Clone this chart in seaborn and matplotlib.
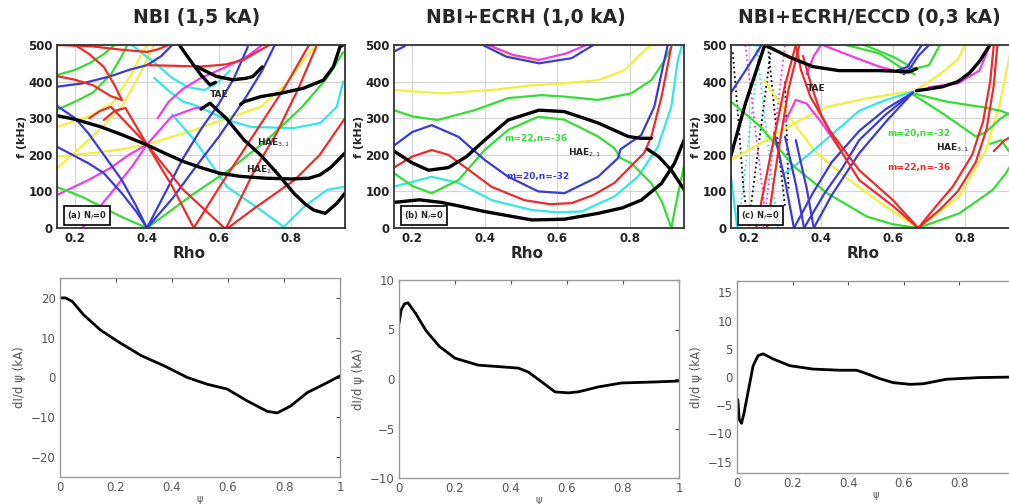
import matplotlib
matplotlib.use("Agg")
import matplotlib.pyplot as plt
import seaborn as sns

# ---- Alfven continuum curves, (rho, f[kHz]) ----
# panel (a) NBI
a_black = [
    ([0.15, 0.2, 0.27, 0.33, 0.4, 0.45, 0.5, 0.55, 0.6, 0.66, 0.73, 0.8, 0.85, 0.88, 0.91, 0.95],
     [307, 297, 277, 255, 227, 204, 182, 165, 150, 141, 136, 134, 136, 145, 165, 205]),
    ([0.55, 0.575, 0.6, 0.62, 0.67, 0.716, 0.762, 0.808, 0.84, 0.863, 0.895, 0.927, 0.95],
     [325, 341, 318, 300, 240, 199, 149, 95, 65, 49, 40, 67, 95]),
    ([0.66, 0.67, 0.716, 0.771, 0.835, 0.89, 0.918, 0.936, 0.945],
     [338, 345, 359, 368, 382, 404, 441, 495, 500]),
    ([0.49, 0.52, 0.55, 0.575, 0.59], [500, 458, 418, 391, 398]),
    ([0.538, 0.593, 0.639, 0.675, 0.694, 0.72], [441, 414, 405, 409, 414, 440]),
]
a_red = [
    ([0.15, 0.25, 0.33, 0.4, 0.43, 0.46], [500, 496, 487, 481, 488, 500]),
    ([0.4, 0.48, 0.55, 0.62, 0.67, 0.7, 0.74], [445, 443, 441, 447, 460, 478, 500]),
    ([0.15, 0.2, 0.25, 0.3, 0.33], [415, 405, 390, 360, 350]),
    ([0.2, 0.24, 0.28, 0.31, 0.33], [500, 475, 440, 390, 350]),
    ([0.24, 0.27, 0.3, 0.4, 0.47, 0.53], [300, 320, 331, 228, 114, 0]),
    ([0.28, 0.31, 0.34, 0.4, 0.5, 0.615], [295, 320, 328, 228, 105, 0]),
    ([0.53, 0.6, 0.7, 0.78, 0.85], [0, 110, 260, 380, 500]),
    ([0.62, 0.7, 0.76, 0.82, 0.87], [0, 160, 259, 380, 495]),
    ([0.625, 0.7, 0.81, 0.88, 0.95], [0, 55, 131, 200, 300]),
]
a_blue = [
    ([0.15, 0.22, 0.3, 0.35, 0.4, 0.44, 0.47], [386, 395, 415, 432, 445, 470, 500]),
    ([0.147, 0.2, 0.237, 0.28, 0.33, 0.37, 0.4], [336, 300, 259, 200, 131, 60, 0]),
    ([0.15, 0.237, 0.28, 0.33, 0.37, 0.4], [222, 177, 150, 95, 45, 0]),
    ([0.4, 0.45, 0.5, 0.55, 0.6, 0.642, 0.68], [0, 95, 190, 270, 340, 410, 495]),
    ([0.4, 0.47, 0.53, 0.6, 0.67, 0.72, 0.755], [0, 80, 160, 250, 350, 430, 500]),
]
a_green = [
    ([0.15, 0.2, 0.24, 0.28, 0.31], [418, 432, 450, 475, 500]),
    ([0.15, 0.2, 0.25, 0.3, 0.33, 0.345], [323, 345, 370, 420, 470, 500]),
    ([0.15, 0.22, 0.27, 0.33, 0.4], [112, 85, 60, 30, 0]),
    ([0.4, 0.532, 0.63, 0.733, 0.83, 0.9, 0.945], [0, 95, 160, 240, 330, 410, 480]),
]
a_cyan = [
    ([0.358, 0.39, 0.422, 0.47, 0.513, 0.56, 0.6, 0.63], [500, 475, 451, 410, 385, 377, 400, 430]),
    ([0.42, 0.46, 0.5, 0.532, 0.623, 0.69, 0.808, 0.882, 0.927, 0.945],
     [410, 375, 345, 336, 295, 276, 273, 287, 331, 400]),
    ([0.47, 0.532, 0.623, 0.716, 0.78, 0.835, 0.9, 0.945], [310, 240, 112, 49, 3, 57, 104, 112]),
]
a_magenta = [
    ([0.15, 0.237, 0.3, 0.35, 0.4], [90, 131, 165, 200, 228]),
    ([0.22, 0.3, 0.36, 0.4], [0, 95, 170, 228]),
    ([0.4, 0.468, 0.532, 0.56], [228, 304, 327, 330]),
    ([0.43, 0.46, 0.5, 0.55, 0.62, 0.68, 0.72], [300, 345, 380, 410, 440, 470, 500]),
]
a_yellow = [
    ([0.15, 0.25, 0.33, 0.4, 0.532, 0.623, 0.716, 0.789, 0.835, 0.87],
     [195, 205, 215, 228, 268, 300, 331, 396, 459, 500]),
    ([0.15, 0.237, 0.28, 0.33, 0.38, 0.42], [163, 240, 280, 331, 420, 500]),
    ([0.15, 0.237, 0.303, 0.358, 0.385, 0.4], [276, 304, 340, 422, 477, 500]),
]

# panel (b) NBI+ECRH
b_black = [
    ([0.15, 0.22, 0.28, 0.33, 0.4, 0.53, 0.62, 0.713, 0.78, 0.832, 0.888, 0.924, 0.95],
     [70, 77, 70, 60, 45, 22, 24, 40, 55, 76, 122, 177, 240]),
    ([0.15, 0.2, 0.245, 0.3, 0.35, 0.4, 0.465, 0.55, 0.62, 0.713, 0.796, 0.83, 0.86],
     [210, 178, 158, 165, 195, 240, 295, 322, 318, 287, 250, 245, 245]),
    ([0.85, 0.88, 0.915, 0.95], [215, 195, 158, 105]),
]
b_red = [
    ([0.15, 0.2, 0.254, 0.3, 0.345, 0.42, 0.51, 0.58, 0.64, 0.7, 0.758, 0.8, 0.84, 0.86, 0.888, 0.915],
     [165, 195, 213, 200, 167, 112, 76, 65, 68, 90, 123, 165, 205, 250, 358, 495]),
]
b_blue = [
    ([0.15, 0.2, 0.254, 0.328, 0.4, 0.465, 0.548, 0.62, 0.713, 0.768, 0.775, 0.832, 0.868, 0.888, 0.905],
     [225, 262, 281, 249, 186, 140, 100, 95, 140, 191, 215, 254, 331, 423, 500]),
    ([0.395, 0.46, 0.55, 0.64, 0.7], [500, 468, 450, 464, 500]),
    ([0.15, 0.18], [482, 497]),
]
b_green = [
    ([0.15, 0.2, 0.254, 0.328, 0.4, 0.465, 0.548, 0.62, 0.713, 0.758, 0.775, 0.805, 0.86, 0.89, 0.915, 0.93, 0.95],
     [150, 115, 95, 131, 213, 268, 304, 296, 250, 218, 191, 177, 122, 70, 0, 76, 170]),
    ([0.15, 0.2, 0.27, 0.373, 0.465, 0.557, 0.62, 0.713, 0.805, 0.86, 0.897, 0.915],
     [322, 305, 295, 322, 355, 363, 359, 350, 368, 404, 459, 495]),
]
b_cyan = [
    ([0.15, 0.254, 0.328, 0.42, 0.53, 0.6, 0.667, 0.758, 0.823, 0.878, 0.915, 0.933, 0.945],
     [113, 140, 123, 76, 49, 43, 45, 86, 140, 222, 331, 459, 500]),
]
b_yellow = [
    ([0.15, 0.28, 0.42, 0.53, 0.62, 0.713, 0.786, 0.832, 0.86], [377, 368, 377, 390, 395, 404, 431, 477, 500]),
    ([0.4, 0.45, 0.5, 0.55], [500, 478, 462, 455]),
]
b_magenta = [
    ([0.41, 0.478, 0.55, 0.625, 0.68], [500, 473, 459, 477, 500]),
]

# panel (c) NBI+ECRH/ECCD
c_black = [
    ([0.25, 0.31, 0.377, 0.45, 0.56, 0.645, 0.665], [497, 468, 441, 430, 430, 427, 435]),
    ([0.665, 0.7, 0.738, 0.78, 0.812, 0.84, 0.867], [375, 380, 386, 400, 423, 455, 497]),
    ([0.149, 0.19, 0.242, 0.25], [195, 340, 495, 500]),
]
c_black_dot = [
    ([0.155, 0.17, 0.185, 0.2], [480, 300, 104, 0]),
    ([0.253, 0.275, 0.3], [495, 280, 58]),
    ([0.3, 0.305, 0.31], [400, 250, 100]),
    ([0.2, 0.23, 0.26], [20, 250, 480]),
]
c_blue = [
    ([0.15, 0.19, 0.235], [370, 430, 500]),
    ([0.325, 0.38, 0.43, 0.506, 0.58, 0.655], [0, 100, 180, 265, 325, 370]),
    ([0.353, 0.41, 0.46, 0.506, 0.58, 0.655], [0, 95, 165, 240, 310, 370]),
    ([0.38, 0.43, 0.47, 0.506, 0.58, 0.655], [0, 90, 150, 204, 290, 370]),
    ([0.27, 0.3, 0.325], [260, 130, 0]),
    ([0.3, 0.33, 0.353], [250, 120, 0]),
    ([0.33, 0.36, 0.38], [240, 110, 0]),
    ([0.63, 0.65, 0.67, 0.7], [420, 440, 470, 500]),
    ([0.61, 0.64, 0.66, 0.68], [430, 440, 470, 500]),
]
c_red = [
    ([0.33, 0.345, 0.37, 0.423, 0.506, 0.6, 0.67], [500, 430, 360, 268, 158, 76, 0]),
    ([0.35, 0.37, 0.4, 0.44, 0.506, 0.6, 0.67], [470, 400, 310, 235, 131, 60, 0]),
    ([0.67, 0.72, 0.766, 0.82, 0.85, 0.87, 0.88], [0, 60, 113, 200, 290, 400, 500]),
    ([0.67, 0.73, 0.78, 0.83, 0.86, 0.88, 0.89], [0, 50, 100, 180, 270, 390, 500]),
    ([0.22, 0.26, 0.3, 0.33], [0, 200, 390, 500]),
    ([0.25, 0.28, 0.31, 0.34], [0, 200, 380, 500]),
    ([0.88, 0.91, 0.95], [210, 240, 260]),
]
c_green = [
    ([0.15, 0.232, 0.325, 0.417, 0.528, 0.6, 0.67], [345, 277, 168, 95, 31, 10, 0]),
    ([0.67, 0.784, 0.877, 0.914, 0.95], [0, 40, 104, 150, 210]),
    ([0.655, 0.738, 0.83, 0.858, 0.9, 0.95], [365, 313, 250, 262, 300, 330]),
    ([0.655, 0.75, 0.85, 0.9, 0.95], [368, 345, 330, 320, 300]),
    ([0.47, 0.562, 0.618, 0.66], [500, 477, 441, 420]),
    ([0.52, 0.6, 0.66, 0.7, 0.73], [500, 468, 435, 445, 500]),
    ([0.87, 0.9, 0.93, 0.95], [230, 240, 200, 150]),
]
c_yellow = [
    ([0.15, 0.232, 0.325, 0.417, 0.528, 0.645], [186, 231, 286, 331, 354, 373]),
    ([0.242, 0.28, 0.325, 0.38, 0.455, 0.528, 0.6, 0.67], [404, 350, 286, 213, 149, 95, 45, 0]),
    ([0.67, 0.784, 0.858, 0.895, 0.914, 0.93], [0, 86, 213, 331, 423, 500]),
    ([0.67, 0.73, 0.78, 0.8], [380, 420, 460, 500]),
]
c_cyan = [
    ([0.3, 0.34, 0.38, 0.445, 0.506, 0.58, 0.655], [150, 180, 213, 268, 320, 350, 372]),
    ([0.15, 0.16, 0.167], [140, 60, 0]),
]
c_cyan_dot = [
    ([0.17, 0.2, 0.23], [0, 250, 500]),
    ([0.22, 0.25, 0.28], [500, 250, 0]),
]
c_magenta = [
    ([0.405, 0.488, 0.562, 0.627, 0.655], [500, 468, 441, 423, 427]),
    ([0.3, 0.33, 0.36, 0.4, 0.45], [290, 350, 340, 290, 220]),
    ([0.7, 0.78, 0.84, 0.87], [385, 395, 430, 500]),
    ([0.36, 0.38, 0.4], [420, 470, 500]),
]
c_magenta_dot = [
    ([0.19, 0.22, 0.25], [500, 250, 0]),
    ([0.24, 0.27, 0.3], [0, 250, 500]),
]

# ---- current density profiles dI/dpsi (kA) ----
psi_a = [0, 0.02, 0.044, 0.085, 0.145, 0.21, 0.29, 0.37, 0.455, 0.526, 0.597, 0.669, 0.74, 0.776, 0.823, 0.883, 0.943, 1.0]
dI_a = [20, 20, 19.1, 15.7, 11.9, 8.9, 5.5, 3.0, 0, -1.7, -2.9, -5.9, -8.5, -8.9, -7.2, -3.8, -1.7, 0.4]
psi_b = [0, 0.008, 0.02, 0.032, 0.06, 0.096, 0.144, 0.2, 0.283, 0.379, 0.426, 0.462, 0.51, 0.557, 0.605, 0.64, 0.712, 0.795, 0.914, 1.0]
dI_b = [5.6, 7.0, 7.6, 7.7, 6.6, 4.9, 3.3, 2.1, 1.4, 1.2, 1.1, 0.7, -0.3, -1.3, -1.4, -1.3, -0.8, -0.4, -0.3, -0.2]
psi_c = [0.003, 0.008, 0.016, 0.024, 0.04, 0.058, 0.076, 0.094, 0.13, 0.19, 0.274, 0.37, 0.43, 0.466, 0.514, 0.562, 0.622, 0.67, 0.753, 0.873, 1.0]
dI_c = [-4.0, -7.5, -8.2, -6.7, -2.6, 2.0, 3.8, 4.1, 3.2, 2.0, 1.4, 1.2, 1.2, 0.6, -0.3, -1.0, -1.3, -1.2, -0.4, -0.1, 0]

titles = ["NBI (1,5 kA)", "NBI+ECRH (1,0 kA)", "NBI+ECRH/ECCD (0,3 kA)"]
title_x = [197, 526, 869]
tags = ["(a) N$_f$=0", "(b) N$_f$=0", "(c) N$_f$=0"]
psi_ticks = [0, 0.2, 0.4, 0.6, 0.8, 1]
psi_labels = ["0", "0.2", "0.4", "0.6", "0.8", "1"]

RED, GREEN, BLUE = "#ec2b2b", "#33dd33", "#3b3bd6"
CYAN, MAGENTA, YELLOW = "#35e6e6", "#ec3cec", "#f0f03c"

sns.set_style("white")
plt.rcParams["font.family"] = ["DejaVu Sans"]

W, H = 1009, 504
fig = plt.figure(figsize=(W / 100, H / 100), dpi=100)


def box(l, t, r, b):
    return [l / W, 1 - b / H, (r - l) / W, (b - t) / H]


def draw(ax, curves, color, lw=1.6, ls="-"):
    for xs, ys in curves:
        sns.lineplot(x=xs, y=ys, ax=ax, color=color, linewidth=lw, linestyle=ls,
                     sort=False, estimator=None)


top_axes = [fig.add_axes(box(57, 45, 345, 228)),
            fig.add_axes(box(394, 45, 684, 228)),
            fig.add_axes(box(731, 45, 1019, 228))]

panels = [
    [(a_yellow, YELLOW), (a_cyan, CYAN), (a_magenta, MAGENTA), (a_green, GREEN),
     (a_blue, BLUE), (a_red, RED)],
    [(b_yellow, YELLOW), (b_cyan, CYAN), (b_magenta, MAGENTA), (b_green, GREEN),
     (b_blue, BLUE), (b_red, RED)],
    [(c_yellow, YELLOW), (c_cyan, CYAN), (c_magenta, MAGENTA), (c_green, GREEN),
     (c_blue, BLUE), (c_red, RED)],
]
blacks = [a_black, b_black, c_black]

for i, ax in enumerate(top_axes):
    if i == 2:
        draw(ax, c_black_dot, "black", lw=1.3, ls=":")
        draw(ax, c_cyan_dot, CYAN, lw=1.3, ls=":")
        draw(ax, c_magenta_dot, MAGENTA, lw=1.3, ls=":")
    for curves, col in panels[i]:
        draw(ax, curves, col)
    draw(ax, blacks[i], "black", lw=2.4)
    ax.set_xlim(0.15, 0.95)
    ax.set_ylim(0, 500)
    ax.set_xticks([0.2, 0.4, 0.6, 0.8])
    ax.set_yticks([0, 100, 200, 300, 400, 500])
    ax.grid(True, color="#d4d4d4", linewidth=0.8)
    ax.set_axisbelow(True)
    for s in ax.spines.values():
        s.set_color("#333333")
        s.set_linewidth(1.3)
    ax.tick_params(direction="in", length=3, labelsize=8.5, pad=3, colors="#222222")
    for lab in ax.get_xticklabels() + ax.get_yticklabels():
        lab.set_fontweight("bold")
    ax.set_xlabel("Rho", fontsize=11, fontweight="bold", labelpad=0)
    ax.xaxis.set_label_coords(0.46, -0.1)
    ax.set_ylabel("f (kHz)", fontsize=8, fontweight="bold", labelpad=1)
    ax.text(0.035, 0.035, tags[i], transform=ax.transAxes, fontsize=6, fontweight="bold",
            ha="left", va="bottom",
            bbox=dict(boxstyle="square,pad=0.35", fc="white", ec="black", lw=1.2))
    fig.text(title_x[i] / W, 1 - 18 / H, titles[i], ha="center", va="center",
             fontsize=13.5, fontweight="bold")

ann = dict(fontsize=6.5, fontweight="bold")
top_axes[0].text(0.6, 364, "TAE", ha="center", va="center", **ann)
top_axes[0].text(0.705, 232, "HAE$_{3,1}$", ha="left", va="center", **ann)
top_axes[0].text(0.675, 158, "HAE$_{2,1}$", ha="left", va="center", **ann)
top_axes[1].text(0.455, 245, "m=22,n=-36", color=GREEN, ha="left", va="center", **ann)
top_axes[1].text(0.46, 141, "m=20,n=-32", color=BLUE, ha="left", va="center", **ann)
top_axes[1].text(0.63, 205, "HAE$_{2,1}$", ha="left", va="center", **ann)
top_axes[2].text(0.386, 382, "TAE", ha="center", va="center", **ann)
top_axes[2].text(0.585, 259, "m=20,n=-32", color=GREEN, ha="left", va="center", **ann)
top_axes[2].text(0.72, 218, "HAE$_{3,1}$", ha="left", va="center", **ann)
top_axes[2].text(0.585, 164, "m=22,n=-36", color=RED, ha="left", va="center", **ann)

bot_axes = [fig.add_axes(box(60, 278, 340, 477)),
            fig.add_axes(box(399, 280, 679, 478)),
            fig.add_axes(box(737, 281, 1015, 473))]
bot_data = [(psi_a, dI_a), (psi_b, dI_b), (psi_c, dI_c)]
bot_lims = [(-25, 25), (-10, 10), (-17, 17)]
bot_ticks = [[-20, -10, 0, 10, 20], [-10, -5, 0, 5, 10], [-15, -10, -5, 0, 5, 10, 15]]

for j, (ax, (xs, ys), lim, yt) in enumerate(zip(bot_axes, bot_data, bot_lims, bot_ticks)):
    sns.lineplot(x=xs, y=ys, ax=ax, color="black", linewidth=2.0, sort=False, estimator=None)
    ax.set_xlim(0, 1)
    ax.set_ylim(*lim)
    ax.set_xticks(psi_ticks)
    # the right-most panel runs off the page edge, so its "1" is not visible
    ax.set_xticklabels(psi_labels if j < 2 else psi_labels[:-1] + [""])
    ax.set_yticks(yt)
    for s in ax.spines.values():
        s.set_color("#999999")
        s.set_linewidth(1.0)
    ax.tick_params(direction="in", length=3, labelsize=8.5, colors="#555555",
                   top=True, right=True, pad=3)
    ax.set_ylabel("dI/d \u03c8 (kA)", fontsize=8.5, color="#555555", labelpad=4)
    ax.set_xlabel("\u03c8", fontsize=7, color="#555555", labelpad=0)

fig.savefig("out.png", dpi=100)
